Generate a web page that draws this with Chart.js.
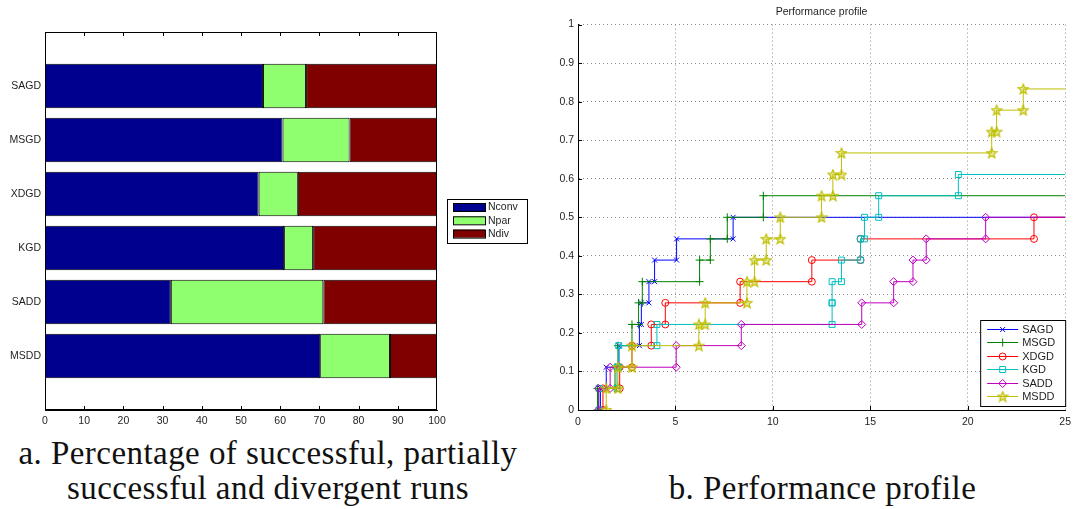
<!DOCTYPE html>
<html>
<head>
<meta charset="utf-8">
<script src="https://cdn.jsdelivr.net/npm/chart.js"></script>
<style>
    body { margin: 0; background: #fff; width: 1077px; height: 509px; overflow: hidden; position: relative; }
    #contA { position: absolute; left: 0; top: 0; width: 540px; height: 430px; }
    #contB { position: absolute; left: 540px; top: 0; width: 537px; height: 430px; }
    .leyenda { position: absolute; font-family: "Liberation Serif", serif; font-size: 33px; letter-spacing: 0.45px; color: #111; text-align: center; line-height: 35px; white-space: nowrap; }
</style>
</head>
<body>
<div id="contA"><canvas id="graficoBarras" width="540" height="430"></canvas></div>
<div id="contB"><canvas id="graficoPerfil" width="537" height="430"></canvas></div>
<div class="leyenda" style="left:0; top:436px; width:536px;">a. Percentage of successful, partially<br>successful and divergent runs</div>
<div class="leyenda" style="left:560px; top:471px; width:525px;">b. Performance profile</div>

<script>
// --- datos grafico a (porcentajes) ---
const categorias = ['SAGD', 'MSGD', 'XDGD', 'KGD', 'SADD', 'MSDD'];
const nConv = [55.6, 60.6, 54.5, 61.0, 32.1, 70.2];
const nPar  = [11.0, 17.1, 10.0,  7.4, 38.9, 17.8];
const nDiv  = [33.4, 22.3, 35.5, 31.6, 29.0, 12.0];
const seriesBarras = ['Nconv', 'Npar', 'Ndiv'];

// --- datos grafico b (perfil de rendimiento: saltos de la escalera) ---
const metodos = ['SAGD', 'MSGD', 'XDGD', 'KGD', 'SADD', 'MSDD'];
const sagdX = [1.15, 1.45, 2.1, 3.15, 3.25, 3.64, 3.93, 5.06, 7.96];
const sagdY = [0.056, 0.111, 0.167, 0.222, 0.278, 0.333, 0.389, 0.444, 0.5];
const msgdX = [1.0, 1.9, 2.05, 2.77, 3.11, 3.3, 6.24, 6.79, 7.66, 9.51];
const msgdY = [0.056, 0.111, 0.167, 0.222, 0.278, 0.333, 0.389, 0.444, 0.5, 0.556];
const xdgdX = [1.28, 2.14, 2.77, 3.76, 4.48, 8.32, 12.0, 14.5, 23.4];
const xdgdY = [0.056, 0.111, 0.167, 0.222, 0.278, 0.333, 0.389, 0.444, 0.5];
const kgdX  = [1.08, 2.0, 2.09, 4.05, 13.04, 13.04, 13.52, 14.5, 14.7, 15.43, 19.52];
const kgdY  = [0.056, 0.111, 0.167, 0.222, 0.278, 0.333, 0.389, 0.444, 0.5, 0.556, 0.611];
const saddX = [1.05, 1.65, 5.04, 8.38, 14.56, 16.2, 17.19, 17.87, 20.92];
const saddY = [0.056, 0.111, 0.167, 0.222, 0.278, 0.333, 0.389, 0.444, 0.5];
const msddX = [1.45, 2.05, 2.77, 6.2, 6.53, 8.67, 9.06, 9.66, 10.38, 12.5, 13.08, 13.52, 21.23, 21.48, 22.85];
const msddY = [0.056, 0.111, 0.167, 0.222, 0.278, 0.333, 0.389, 0.444, 0.5, 0.556, 0.611, 0.667, 0.722, 0.778, 0.833];
const tauMax = 25;

const colorTexto = '#1e1e1e';
const fuenteEjes = "'Liberation Sans', Arial, sans-serif";


// ================= grafico a =================
const etiquetasY = [''].concat(categorias, ['']);
const conRelleno = arr => [null].concat(arr, [null]);
const coloresBarras = ['#00008f', '#8fff70', '#800000'];

const marcoBarras = {
    id: 'marcoBarras',
    afterDraw(chart) {
        const { ctx, chartArea: a, scales } = chart;
        ctx.save();
        ctx.strokeStyle = '#000';
        ctx.lineWidth = 1;
        ctx.strokeRect(a.left + 0.5, a.top + 0.5, a.right - a.left - 1, a.bottom - a.top - 1);
        ctx.beginPath();
        for (let v = 10; v < 100; v += 10) {
            const x = Math.round(scales.x.getPixelForValue(v)) + 0.5;
            ctx.moveTo(x, a.top); ctx.lineTo(x, a.top + 4);
            ctx.moveTo(x, a.bottom); ctx.lineTo(x, a.bottom - 4);
        }
        ctx.stroke();

        // leyenda a la derecha
        const lx = a.right + 10, ly = 199;
        ctx.fillStyle = '#fff';
        ctx.fillRect(lx, ly, 80, 44);
        ctx.strokeRect(lx + 0.5, ly + 0.5, 80, 44);
        ctx.font = "10.5px " + fuenteEjes;
        ctx.textBaseline = 'middle';
        chart.data.datasets.forEach((ds, i) => {
            const y = ly + 4 + i * 13.3;
            ctx.fillStyle = ds.backgroundColor;
            ctx.fillRect(lx + 6, y, 32, 8);
            ctx.strokeRect(lx + 6.5, y + 0.5, 32, 8);
            ctx.fillStyle = colorTexto;
            ctx.fillText(ds.label, lx + 41, y + 4.5);
        });
        ctx.restore();
    }
};

new Chart(document.getElementById('graficoBarras').getContext('2d'), {
    type: 'bar',
    data: {
        labels: etiquetasY,
        datasets: [nConv, nPar, nDiv].map((serie, i) => ({
            label: seriesBarras[i],
            data: conRelleno(serie),
            backgroundColor: coloresBarras[i],
            borderColor: '#000',
            borderWidth: 1,
            borderSkipped: false,
            categoryPercentage: 0.82,
            barPercentage: 1
        }))
    },
    options: {
        indexAxis: 'y',
        responsive: false,
        animation: false,
        layout: { padding: { top: 32, right: 103, left: 0, bottom: 0 } },
        plugins: { legend: { display: false }, tooltip: { enabled: false } },
        scales: {
            x: {
                stacked: true, min: 0, max: 100,
                grid: { display: false, drawTicks: false },
                border: { display: true, color: '#000' },
                ticks: { stepSize: 10, padding: 5, color: colorTexto, font: { family: fuenteEjes, size: 10.5 }, maxRotation: 0 },
                afterFit: s => { s.height = 20; }
            },
            y: {
                stacked: true, offset: false,
                grid: { display: false, offset: false, drawTicks: false },
                border: { display: true, color: '#000' },
                ticks: { autoSkip: false, padding: 4, color: colorTexto, font: { family: fuenteEjes, size: 10.5 } },
                afterFit: s => { s.width = 45; }
            }
        }
    },
    plugins: [marcoBarras]
});


// ================= grafico b =================
function hacerEstrella(color) {
    const c = document.createElement('canvas');
    c.width = 12; c.height = 12;
    const g = c.getContext('2d');
    g.strokeStyle = color; g.fillStyle = 'rgba(191,191,0,0.35)'; g.lineWidth = 1.2;
    g.beginPath();
    for (let i = 0; i < 10; i++) {
        const r = i % 2 ? 2.3 : 5.2;
        const ang = -Math.PI / 2 + i * Math.PI / 5;
        const px = 6 + r * Math.cos(ang), py = 6.4 + r * Math.sin(ang);
        if (i === 0) g.moveTo(px, py); else g.lineTo(px, py);
    }
    g.closePath(); g.fill(); g.stroke();
    return c;
}

// convierte los saltos en puntos de escalera (marcador en cada esquina)
function escalera(xs, ys) {
    const pts = [{ x: xs[0], y: 0 }];
    for (let i = 0; i < xs.length; i++) {
        pts.push({ x: xs[i], y: ys[i] });
        if (i + 1 < xs.length) pts.push({ x: xs[i + 1], y: ys[i] });
    }
    pts.push({ x: tauMax, y: ys[ys.length - 1] });
    return pts;
}

const coloresPerfil = ['#0000ff', '#008000', '#ff0000', '#00bfbf', '#bf00bf', '#bfbf00'];
const saltosX = [sagdX, msgdX, xdgdX, kgdX, saddX, msddX];
const saltosY = [sagdY, msgdY, xdgdY, kgdY, saddY, msddY];
const estilos = ['crossRot', 'cross', 'circle', 'rect', 'rectRot', hacerEstrella(coloresPerfil[5])];
const radios = [3.5, 4, 3.5, 4.2, 4, 6];

const extrasPerfil = {
    id: 'extrasPerfil',
    afterDraw(chart) {
        const { ctx, chartArea: a, scales } = chart;
        ctx.save();
        ctx.strokeStyle = '#000';
        ctx.lineWidth = 1;
        ctx.beginPath();
        for (let v = 5; v <= 20; v += 5) {
            const x = Math.round(scales.x.getPixelForValue(v)) + 0.5;
            ctx.moveTo(x, a.bottom); ctx.lineTo(x, a.bottom - 4);
        }
        for (let v = 1; v <= 10; v++) {
            const y = Math.round(scales.y.getPixelForValue(v / 10)) + 0.5;
            ctx.moveTo(a.left, y); ctx.lineTo(a.left + 4, y);
        }
        ctx.stroke();

        // leyenda abajo a la derecha
        const w = 85, h = 86;
        const lx = a.right - w, ly = a.bottom - 4 - h;
        ctx.fillStyle = '#fff';
        ctx.fillRect(lx, ly, w, h);
        ctx.strokeRect(lx + 0.5, ly + 0.5, w, h);
        ctx.font = "11px " + fuenteEjes;
        ctx.textBaseline = 'middle';
        chart.data.datasets.forEach((ds, i) => {
            const y = Math.round(ly + 8.5 + i * 13.5) + 0.5;
            ctx.strokeStyle = ds.borderColor;
            ctx.beginPath(); ctx.moveTo(lx + 7, y); ctx.lineTo(lx + 38, y); ctx.stroke();
            if (Chart.helpers && Chart.helpers.drawPoint) {
                ctx.fillStyle = 'rgba(0,0,0,0)';
                Chart.helpers.drawPoint(ctx, { pointStyle: ds.pointStyle, rotation: 0, radius: ds.legendRadius, borderWidth: 1 }, lx + 22.5, y);
            }
            ctx.fillStyle = colorTexto;
            ctx.fillText(ds.label, lx + 42, y + 0.5);
        });
        ctx.restore();
    }
};

new Chart(document.getElementById('graficoPerfil').getContext('2d'), {
    type: 'scatter',
    data: {
        datasets: metodos.map((m, i) => ({
            label: m,
            data: escalera(saltosX[i], saltosY[i]),
            showLine: true,
            tension: 0,
            fill: false,
            borderColor: coloresPerfil[i],
            borderWidth: 1,
            pointStyle: estilos[i],
            pointBorderColor: coloresPerfil[i],
            pointBackgroundColor: 'rgba(0,0,0,0)',
            pointBorderWidth: 1,
            pointRadius: ctx => ctx.dataIndex === ctx.dataset.data.length - 1 ? 0 : radios[i],
            legendRadius: radios[i],
            order: metodos.length - 1 - i
        }))
    },
    options: {
        responsive: false,
        animation: false,
        layout: { padding: { top: 0, right: 10, left: 0, bottom: 0 } },
        plugins: {
            legend: { display: false },
            tooltip: { enabled: false },
            title: {
                display: true,
                text: 'Performance profile',
                fullSize: false,
                color: colorTexto,
                font: { family: fuenteEjes, size: 10.5, weight: 'normal' },
                padding: { top: 6, bottom: 6 }
            }
        },
        scales: {
            x: {
                type: 'linear', min: 0, max: tauMax,
                grid: { color: '#8c8c8c', drawTicks: false },
                border: { display: true, color: '#000', dash: [1, 3] },
                ticks: { stepSize: 5, padding: 6, color: colorTexto, font: { family: fuenteEjes, size: 10.5 }, maxRotation: 0 },
                afterFit: s => { s.height = 20; }
            },
            y: {
                min: 0, max: 1,
                grid: { color: '#8c8c8c', drawTicks: false },
                border: { display: true, color: '#000', dash: [1, 3] },
                ticks: {
                    stepSize: 0.1, padding: 4, color: colorTexto, font: { family: fuenteEjes, size: 10.5 },
                    callback: v => String(Math.round(v * 10) / 10)
                },
                afterFit: s => { s.width = 38; }
            }
        }
    },
    plugins: [extrasPerfil]
});
</script>
</body>
</html>
